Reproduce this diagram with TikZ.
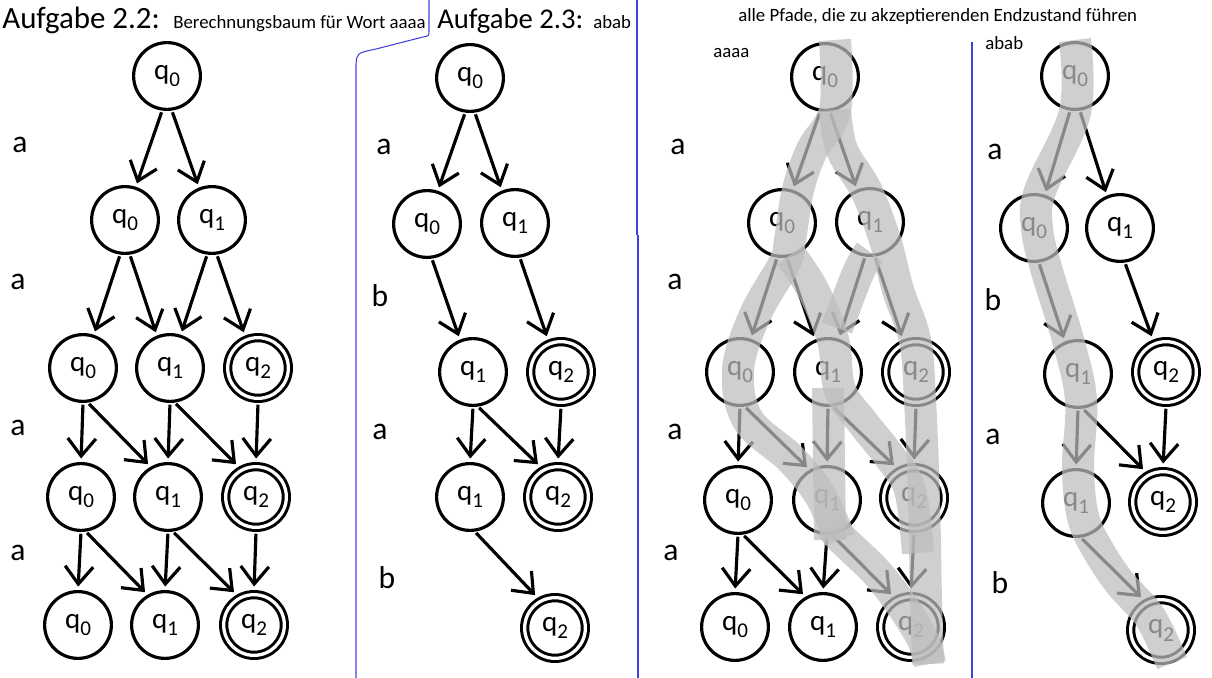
\documentclass[tikz,border=0pt]{standalone}
\usepackage{fontspec}
\setmainfont{Carlito}
\usepackage{tikz}
\usetikzlibrary{arrows,arrows.meta,shapes}
\definecolor{sepblue}{RGB}{64,64,220}
\newcommand{\minsz}{1.336cm}
\newcommand{\linew}{1.8pt}
\newcommand{\qs}[1]{q\raisebox{-4.5pt}{\fontsize{12}{12}\selectfont #1}}

\begin{document}
\begin{tikzpicture}[x=0.02cm,y=-0.02cm]
            \tikzset{State/.style = {circle, draw, line width=\linew, minimum size=\minsz, inner sep=0pt, font=\fontsize{16.5}{18}\selectfont},
                     Accept/.style = {State, double, line width=1.7pt, double distance=1.87pt, minimum size=1.214cm, outer sep=2.64pt},
                     Edge/.style = {-{Straight Barb[length=10pt,width=16pt]}, line width=\linew, shorten >=2pt, shorten <=1pt},
                     Letter/.style = {inner sep=0pt, font=\fontsize{18}{20}\selectfont},
                     Title/.style = {anchor=base west, inner sep=0pt, font=\fontsize{17.6}{20}\selectfont},
                     Small/.style = {anchor=base west, inner sep=0pt, font=\fontsize{10.7}{12}\selectfont},
                     Trail/.style = {line width=0.64cm, draw=black!26, draw opacity=0.72, line join=round},
                     Sep/.style = {draw=sepblue, line width=0.6pt}}
            \useasboundingbox (0,0) rectangle (1212,678);
            \draw[Sep] (429,0) -- (429,31) .. controls (429,36) .. (423,37) -- (376,49) .. controls (357,53) .. (356,64) -- (356,678);
            \draw[Sep] (637,0) -- (637,235);
            \draw[Sep] (638,235) -- (638,678);
            \draw[Sep] (972,42) -- (972,678);
            \node[Title] (t22) at (2,29) {Aufgabe 2.2:};
            \node[Small] (t22w) at (173,29) {Berechnungsbaum für Wort aaaa};
            \node[Title, font=\fontsize{16.3}{18}\selectfont] (t23) at (437,29) {Aufgabe 2.3:};
            \node[Small] (t23w) at (593,29) {abab};
            \node[Small] (tall) at (738,22) {alle Pfade, die zu akzeptierenden Endzustand führen};
            \node[Small] (taaaa) at (713,58) {aaaa};
            \node[Small] (tabab) at (985,50) {abab};
            \node[Letter] (la1) at (20,145) {a};
            \node[Letter] (la2) at (18,282) {a};
            \node[Letter] (la3) at (18,428) {a};
            \node[Letter] (la4) at (18,553) {a};
            \node[State] (a00) at (167,76) {\qs0};
            \node[State] (a10) at (125,220) {\qs0};
            \node[State] (a11) at (212,220) {\qs1};
            \node[State] (a20) at (83,368) {\qs0};
            \node[State] (a21) at (170,368) {\qs1};
            \node[Accept] (a22) at (258,368) {\qs2};
            \node[State] (a30) at (81,497) {\qs0};
            \node[State] (a31) at (168,497) {\qs1};
            \node[Accept] (a32) at (256,497) {\qs2};
            \node[State] (a40) at (78,625) {\qs0};
            \node[State] (a41) at (165,625) {\qs1};
            \node[Accept] (a42) at (254,625) {\qs2};
            \draw[Edge] (a00.-98) -- (a10.72);
            \draw[Edge] (a00.-82) -- (a11.112);
            \draw[Edge] (a10.-98) -- (a20.72);
            \draw[Edge] (a10.-82) -- (a21.112);
            \draw[Edge] (a11.-98) -- (a21.72);
            \draw[Edge] (a11.-82) -- (a22.112);
            \draw[Edge] (a20.south) -- (a30.north);
            \draw[Edge] (a20.-82) -- (a31.120);
            \draw[Edge] (a21.south) -- (a31.north);
            \draw[Edge] (a21.-82) -- (a32.120);
            \draw[Edge] (a22.south) -- (a32.north);
            \draw[Edge] (a30.south) -- (a40.north);
            \draw[Edge] (a30.-82) -- (a41.120);
            \draw[Edge] (a31.south) -- (a41.north);
            \draw[Edge] (a31.-82) -- (a42.120);
            \draw[Edge] (a32.south) -- (a42.north);
            \node[Letter] (lb1) at (384,147) {a};
            \node[Letter] (lb2) at (380,296) {b};
            \node[Letter] (lb3) at (380,432) {a};
            \node[Letter] (lb4) at (387,578) {b};
            \node[State] (b00) at (470,78) {\qs0};
            \node[State] (b10) at (427,224) {\qs0};
            \node[State] (b11) at (515,223) {\qs1};
            \node[State] (b20) at (473,372) {\qs1};
            \node[Accept] (b21) at (561,372) {\qs2};
            \node[State] (b30) at (470,497) {\qs1};
            \node[Accept] (b31) at (558,497) {\qs2};
            \node[Accept] (b40) at (555,628) {\qs2};
            \draw[Edge] (b00.-98) -- (b10.72);
            \draw[Edge] (b00.-82) -- (b11.112);
            \draw[Edge] (b10.-82) -- (b20.112);
            \draw[Edge] (b11.-82) -- (b21.112);
            \draw[Edge] (b20.south) -- (b30.north);
            \draw[Edge] (b20.-82) -- (b31.120);
            \draw[Edge] (b21.south) -- (b31.north);
            \draw[Edge] (b30.-82) -- (b40.120);
            \node[Letter] (lc1) at (678,147) {a};
            \node[Letter] (lc2) at (675,282) {a};
            \node[Letter] (lc3) at (675,432) {a};
            \node[Letter] (lc4) at (671,553) {a};
            \node[State] (c00) at (825,77) {\qs0};
            \node[State] (c10) at (782,223) {\qs0};
            \node[State] (c11) at (870,222) {\qs1};
            \node[State] (c20) at (740,372) {\qs0};
            \node[State] (c21) at (828,372) {\qs1};
            \node[Accept] (c22) at (916,372) {\qs2};
            \node[State] (c30) at (738,500) {\qs0};
            \node[State] (c31) at (827,500) {\qs1};
            \node[Accept] (c32) at (914,498) {\qs2};
            \node[State] (c40) at (735,627) {\qs0};
            \node[State] (c41) at (823,627) {\qs1};
            \node[Accept] (c42) at (911,627) {\qs2};
            \draw[Edge] (c00.-98) -- (c10.72);
            \draw[Edge] (c00.-82) -- (c11.112);
            \draw[Edge] (c10.-98) -- (c20.72);
            \draw[Edge] (c10.-82) -- (c21.112);
            \draw[Edge] (c11.-98) -- (c21.72);
            \draw[Edge] (c11.-82) -- (c22.112);
            \draw[Edge] (c20.south) -- (c30.north);
            \draw[Edge] (c20.-82) -- (c31.120);
            \draw[Edge] (c21.south) -- (c31.north);
            \draw[Edge] (c21.-82) -- (c32.120);
            \draw[Edge] (c22.south) -- (c32.north);
            \draw[Edge] (c30.south) -- (c40.north);
            \draw[Edge] (c30.-82) -- (c41.120);
            \draw[Edge] (c31.south) -- (c41.north);
            \draw[Edge] (c31.-82) -- (c42.120);
            \draw[Edge] (c32.south) -- (c42.north);
            \draw[Trail] plot[smooth, tension=0.6] coordinates {(835,40) (835,110) (812,150) (798,190) (790,240) (785,262) (755,315) (738,370) (748,420) (790,458) (820,495) (840,540)};
            \draw[Trail] plot[smooth, tension=0.6] coordinates {(835,110) (842,150) (866,190) (885,240) (898,290) (915,340) (920,400) (924,500) (926,600) (928,664)};
            \draw[Trail] plot[smooth, tension=0.6] coordinates {(790,255) (813,290) (833,340) (840,390) (863,423) (890,457) (910,490) (918,553)};
            \draw[Trail] plot[smooth, tension=0.6] coordinates {(870,252) (858,273) (837,328)};
            \draw[Trail] (828,388) -- (830,540);
            \draw[Trail] plot[smooth, tension=0.6] coordinates {(830,525) (843,540) (877,573) (903,607) (923,640) (930,664)};
            \node[Letter] (ld1) at (995,152) {a};
            \node[Letter] (ld2) at (993,300) {b};
            \node[Letter] (ld3) at (993,437) {a};
            \node[Letter] (ld4) at (1000,583) {b};
            \node[State] (d00) at (1075,76) {\qs0};
            \node[State] (d10) at (1034,228) {\qs0};
            \node[State] (d11) at (1120,228) {\qs1};
            \node[State] (d20) at (1078,374) {\qs1};
            \node[Accept] (d21) at (1166,372) {\qs2};
            \node[State] (d30) at (1076,503) {\qs1};
            \node[Accept] (d31) at (1163,502) {\qs2};
            \node[Accept] (d40) at (1161,630) {\qs2};
            \draw[Edge] (d00.-98) -- (d10.72);
            \draw[Edge] (d00.-82) -- (d11.112);
            \draw[Edge] (d10.-82) -- (d20.112);
            \draw[Edge] (d11.-82) -- (d21.112);
            \draw[Edge] (d20.south) -- (d30.north);
            \draw[Edge] (d20.-82) -- (d31.120);
            \draw[Edge] (d21.south) -- (d31.north);
            \draw[Edge] (d30.-82) -- (d40.120);
            \draw[Trail] plot[smooth, tension=0.6] coordinates {(1075,40) (1075,112) (1040,191) (1037,228) (1046,268) (1068,340) (1081,400) (1078,467) (1083,517) (1098,550) (1120,583) (1150,617) (1172,663)};
\end{tikzpicture}
\end{document}
